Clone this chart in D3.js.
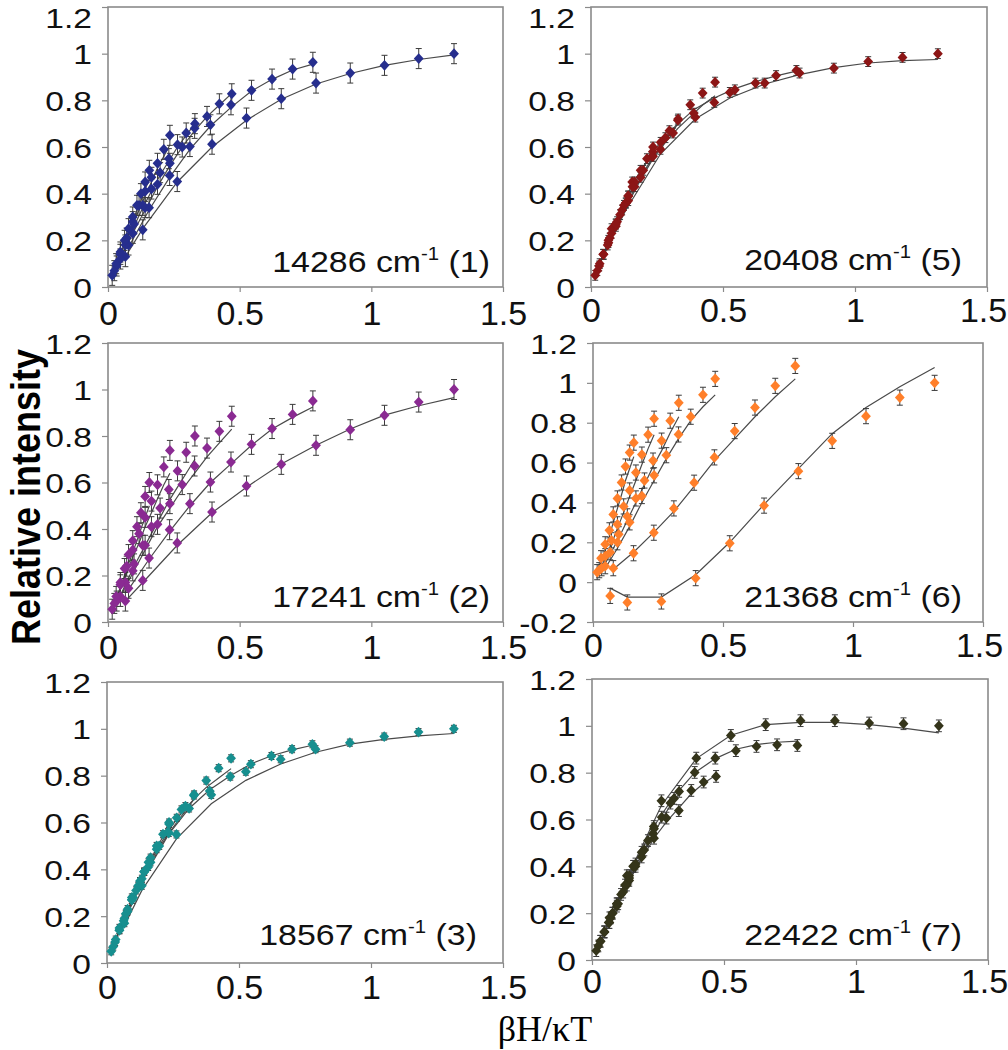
<!DOCTYPE html>
<html><head><meta charset="utf-8">
<script src="https://cdn.jsdelivr.net/npm/d3@7/dist/d3.min.js"></script>
<style>body{margin:0;background:#fff}svg{display:block}</style>
</head><body><svg id="c" width="1008" height="1050"></svg>
<script>
// ---------- DATA ----------
const xTickVals = [0, 0.5, 1, 1.5];
const xTickLabels = ["0", "0.5", "1", "1.5"];
const yTickVals = [0, 0.2, 0.4, 0.6, 0.8, 1, 1.2];
const yTickLabels = ["0", "0.2", "0.4", "0.6", "0.8", "1", "1.2"];
const yTickValsNeg = [-0.2, 0, 0.2, 0.4, 0.6, 0.8, 1, 1.2];
const yTickLabelsNeg = ["-0.2", "0", "0.2", "0.4", "0.6", "0.8", "1", "1.2"];

const wavenumbers = ["14286", "20408", "17241", "21368", "18567", "22422"];
const bandIndex = ["1", "5", "2", "6", "3", "7"];
const errHalf = [0.043, 0.021, 0.043, 0.038, 0.015, 0.025];

// βH/κT values of the six temperature series
const xS1 = [0.066,0.132,0.263,0.395,0.526,0.658,0.79,0.92,1.05,1.18,1.314];
const xS2 = [0.078,0.156,0.234,0.311,0.389,0.467,0.545,0.623,0.701,0.778];
const xS3 = [0.047,0.094,0.141,0.188,0.235,0.282,0.329,0.376,0.423,0.47];
const xS4 = [0.033,0.066,0.099,0.132,0.165,0.198,0.231,0.264,0.297,0.33];
const xS5 = [0.024,0.047,0.071,0.094,0.118,0.141,0.165,0.188,0.212,0.235];
const xS6 = [0.016,0.031,0.047,0.063,0.078,0.094,0.11,0.125,0.141,0.157];

// Panel 1: 14286 cm-1
const p1Y = [
 [0.13,0.245,0.452,0.612,0.724,0.807,0.874,0.917,0.95,0.979,1.0],
 [0.18,0.34,0.478,0.602,0.695,0.781,0.843,0.891,0.934,0.963],
 [0.12,0.23,0.34,0.44,0.53,0.60,0.68,0.731,0.785,0.828],
 [0.09,0.18,0.27,0.35,0.42,0.49,0.55,0.61,0.66,0.70],
 [0.07,0.14,0.21,0.28,0.35,0.41,0.47,0.53,0.59,0.65],
 [0.05,0.10,0.15,0.20,0.25,0.30,0.35,0.40,0.45,0.50]];
const p1Fit = [
 [0.13,0.25,0.45,0.60,0.715,0.805,0.87,0.915,0.95,0.975,0.995],
 [0.17,0.33,0.47,0.59,0.69,0.77,0.84,0.89,0.93,0.955],
 [0.12,0.23,0.33,0.43,0.52,0.60,0.67,0.73,0.78,0.83],
 [0.09,0.17,0.26,0.34,0.41,0.48,0.54,0.60,0.65,0.70],
 [0.07,0.14,0.20,0.27,0.33,0.39,0.45,0.51,0.56,0.61],
 [0.05,0.10,0.14,0.19,0.24,0.28,0.33,0.37,0.42,0.46]];

// Panel 2: 20408 cm-1
const p2Y = [
 [0.20,0.36,0.59,0.728,0.834,0.874,0.917,0.938,0.966,0.984,1.0],
 [0.25,0.45,0.58,0.66,0.745,0.791,0.845,0.874,0.906,0.928],
 [0.14,0.26,0.37,0.47,0.56,0.64,0.715,0.781,0.831,0.878],
 [0.10,0.19,0.28,0.36,0.43,0.50,0.56,0.62,0.67,0.72],
 [0.07,0.14,0.21,0.27,0.33,0.39,0.45,0.50,0.55,0.60],
 [0.05,0.09,0.14,0.18,0.23,0.27,0.31,0.35,0.39,0.43]];
const p2Fit = [
 [0.18,0.33,0.57,0.72,0.81,0.87,0.91,0.94,0.96,0.97,0.975],
 [0.24,0.44,0.58,0.68,0.76,0.81,0.85,0.88,0.905,0.925],
 [0.13,0.25,0.36,0.46,0.55,0.62,0.68,0.73,0.78,0.82],
 [0.10,0.19,0.27,0.35,0.42,0.49,0.55,0.60,0.65,0.70],
 [0.07,0.14,0.20,0.26,0.32,0.38,0.44,0.49,0.54,0.58],
 [0.05,0.09,0.14,0.18,0.22,0.26,0.30,0.34,0.38,0.42]];

// Panel 3: 17241 cm-1
const p3Y = [
 [0.09,0.179,0.34,0.473,0.585,0.678,0.76,0.827,0.889,0.946,1.0],
 [0.145,0.275,0.397,0.509,0.602,0.688,0.764,0.832,0.893,0.951],
 [0.11,0.22,0.33,0.42,0.509,0.591,0.671,0.748,0.82,0.885],
 [0.09,0.17,0.25,0.33,0.41,0.49,0.57,0.65,0.73,0.80],
 [0.08,0.16,0.24,0.31,0.38,0.45,0.52,0.59,0.667,0.738],
 [0.055,0.11,0.17,0.23,0.29,0.35,0.41,0.47,0.54,0.60]];
const p3Fit = [
 [0.09,0.17,0.33,0.47,0.58,0.68,0.76,0.83,0.89,0.93,0.965],
 [0.14,0.27,0.39,0.50,0.60,0.68,0.76,0.83,0.88,0.925],
 [0.11,0.21,0.31,0.41,0.49,0.57,0.64,0.71,0.77,0.83],
 [0.08,0.16,0.24,0.31,0.38,0.45,0.52,0.58,0.64,0.70],
 [0.07,0.14,0.21,0.28,0.34,0.41,0.47,0.53,0.59,0.64],
 [0.05,0.10,0.15,0.20,0.25,0.30,0.35,0.40,0.45,0.50]];

// Panel 4: 21368 cm-1
const p4Y = [
 [-0.069,-0.102,-0.097,0.02,0.195,0.384,0.557,0.709,0.833,0.926,1.0],
 [0.07,0.145,0.248,0.37,0.499,0.626,0.758,0.876,0.985,1.085],
 [0.08,0.20,0.30,0.432,0.536,0.637,0.741,0.83,0.94,1.02],
 [0.07,0.15,0.24,0.33,0.42,0.51,0.61,0.71,0.81,0.90],
 [0.06,0.13,0.21,0.29,0.38,0.46,0.55,0.64,0.74,0.82],
 [0.05,0.12,0.19,0.26,0.34,0.42,0.50,0.58,0.65,0.70]];
const p4Fit = [
 [-0.03,-0.075,-0.075,0.037,0.20,0.39,0.57,0.745,0.876,0.98,1.077],
 [0.065,0.15,0.25,0.355,0.48,0.61,0.72,0.83,0.93,1.02],
 [0.07,0.17,0.28,0.40,0.51,0.62,0.72,0.81,0.88,0.94],
 [0.06,0.14,0.22,0.31,0.40,0.49,0.58,0.66,0.75,0.83],
 [0.05,0.12,0.19,0.27,0.35,0.43,0.51,0.59,0.67,0.74],
 [0.04,0.10,0.16,0.23,0.30,0.37,0.44,0.51,0.57,0.63]];

// Panel 5: 18567 cm-1
const p5Y = [
 [0.17,0.33,0.549,0.718,0.817,0.87,0.913,0.941,0.967,0.986,1.0],
 [0.22,0.41,0.555,0.66,0.735,0.796,0.849,0.884,0.913,0.934],
 [0.15,0.28,0.39,0.486,0.594,0.656,0.715,0.779,0.832,0.874],
 [0.10,0.19,0.28,0.36,0.43,0.50,0.56,0.62,0.67,0.72],
 [0.07,0.14,0.21,0.27,0.33,0.39,0.45,0.50,0.55,0.60],
 [0.05,0.09,0.14,0.18,0.23,0.27,0.31,0.35,0.39,0.43]];
const p5Fit = [
 [0.16,0.31,0.53,0.68,0.78,0.85,0.90,0.935,0.955,0.97,0.98],
 [0.21,0.40,0.55,0.66,0.74,0.80,0.85,0.885,0.91,0.93],
 [0.14,0.27,0.38,0.48,0.57,0.64,0.70,0.75,0.79,0.83],
 [0.10,0.19,0.27,0.35,0.42,0.49,0.55,0.60,0.65,0.70],
 [0.07,0.14,0.20,0.26,0.32,0.38,0.44,0.49,0.54,0.58],
 [0.05,0.09,0.14,0.18,0.22,0.26,0.30,0.34,0.38,0.42]];

// Panel 6: 22422 cm-1
const p6Y = [
 [0.18,0.36,0.68,0.862,0.959,1.005,1.022,1.022,1.012,1.009,1.0],
 [0.20,0.40,0.57,0.69,0.801,0.862,0.894,0.912,0.919,0.916],
 [0.12,0.23,0.34,0.44,0.52,0.606,0.638,0.724,0.76,0.784],
 [0.08,0.16,0.24,0.32,0.40,0.47,0.54,0.61,0.67,0.72],
 [0.06,0.12,0.18,0.24,0.29,0.35,0.41,0.46,0.51,0.56],
 [0.04,0.08,0.12,0.16,0.20,0.24,0.28,0.32,0.36,0.40]];
const p6Fit = [
 [0.17,0.35,0.66,0.86,0.96,1.005,1.015,1.015,1.005,0.99,0.97],
 [0.20,0.40,0.57,0.70,0.80,0.86,0.90,0.92,0.93,0.935],
 [0.12,0.23,0.34,0.43,0.52,0.59,0.65,0.71,0.755,0.79],
 [0.08,0.16,0.24,0.32,0.39,0.46,0.53,0.60,0.66,0.71],
 [0.06,0.12,0.18,0.24,0.29,0.34,0.40,0.45,0.50,0.55],
 [0.04,0.08,0.12,0.16,0.20,0.24,0.28,0.32,0.36,0.40]];

// ---------- LAYOUT / STYLE ----------
const xSeries = [xS1, xS2, xS3, xS4, xS5, xS6];
const panelY = [p1Y, p2Y, p3Y, p4Y, p5Y, p6Y];
const panelFit = [p1Fit, p2Fit, p3Fit, p4Fit, p5Fit, p6Fit];
const colors = ["#262e8e", "#8c1616", "#8a2a92", "#ff7f2a", "#178f8f", "#34341a"];
const layout = [
  {l:108, r:503, t:7,   b:287, neg:false, annX:490, annY:272, xlDy:38, right:false},
  {l:591, r:987, t:7,   b:287, neg:false, annX:962, annY:270, xlDy:35, right:true},
  {l:108, r:503, t:343, b:622, neg:false, annX:490, annY:607, xlDy:37, right:false},
  {l:593, r:983, t:343, b:622, neg:true,  annX:962, annY:607, xlDy:35, right:true},
  {l:107, r:503, t:682, b:963, neg:false, annX:477, annY:945, xlDy:36, right:false},
  {l:592, r:988, t:679, b:960, neg:false, annX:962, annY:945, xlDy:33, right:true}
];

const svg = d3.select("#c");
const FONT = "Liberation Sans, Arial, sans-serif";
const frameCol = "#8a8a8a";

layout.forEach((L, i) => {
  const x = d3.scaleLinear().domain([0, 1.5]).range([L.l, L.r]);
  const y = d3.scaleLinear().domain(L.neg ? [-0.2, 1.2] : [0, 1.2]).range([L.b, L.t]);
  const g = svg.append("g");

  // y axis
  const yv = L.neg ? yTickValsNeg : yTickVals;
  const yl = L.neg ? yTickLabelsNeg : yTickLabels;
  const ya = g.append("g").attr("transform", `translate(${L.l},0)`)
    .call(d3.axisLeft(y).tickValues(yv).tickSize(6).tickFormat((d, k) => yl[k]));
  ya.select(".domain").remove();
  ya.selectAll("line").attr("stroke", frameCol).attr("stroke-width", 1.2);
  ya.selectAll("text").attr("x", null).attr("dy", null)
    .attr("transform", d => `translate(-16,${Math.max(10, 27 - y(d))}) scale(1.2,1)`)
    .attr("font-family", FONT).attr("font-size", 28).attr("fill", "#111");

  // x axis
  const xa = g.append("g").attr("transform", `translate(0,${L.b})`)
    .call(d3.axisBottom(x).tickValues(xTickVals).tickSize(5).tickFormat((d, k) => xTickLabels[k]));
  xa.select(".domain").remove();
  xa.selectAll("line").attr("stroke", frameCol).attr("stroke-width", 1.2);
  xa.selectAll("text").attr("y", L.xlDy).attr("dy", null)
    .attr("dx", d => (L.right && d === 1.5) ? -4 : 0)
    .attr("font-family", FONT).attr("font-size", 34).attr("fill", "#111");

  // frame
  g.append("rect").attr("x", L.l).attr("y", L.t).attr("width", L.r - L.l).attr("height", L.b - L.t)
    .attr("fill", "none").attr("stroke", frameCol).attr("stroke-width", 1.6);

  const line = d3.line().x(d => x(d[0])).y(d => y(d[1]));
  const ys = panelY[i], fs = panelFit[i];
  const e = errHalf[i];

  // fit lines
  fs.forEach((f, s) => {
    g.append("path").datum(f.map((v, k) => [xSeries[s][k], v]))
      .attr("d", line).attr("fill", "none").attr("stroke", "#4a4a4a").attr("stroke-width", 1.2);
  });
  // error bars
  ys.forEach((arr, s) => {
    const pts = arr.map((v, k) => [xSeries[s][k], v]);
    const eb = g.append("g").attr("stroke", "#3a3a3a").attr("stroke-width", 1);
    pts.forEach(p => {
      const cx = x(p[0]), y1 = y(p[1] - e), y2 = y(p[1] + e);
      eb.append("line").attr("x1", cx).attr("x2", cx).attr("y1", y1).attr("y2", y2);
      eb.append("line").attr("x1", cx - 3).attr("x2", cx + 3).attr("y1", y1).attr("y2", y1);
      eb.append("line").attr("x1", cx - 3).attr("x2", cx + 3).attr("y1", y2).attr("y2", y2);
    });
  });
  // markers
  const sym = d3.symbol().type(d3.symbolSquare).size(48);
  ys.forEach((arr, s) => {
    g.append("g").selectAll("path").data(arr.map((v, k) => [xSeries[s][k], v])).join("path")
      .attr("d", sym)
      .attr("transform", d => `translate(${x(d[0])},${y(d[1])}) scale(1,1.1) rotate(45)`)
      .attr("fill", colors[i]);
  });

  // annotation
  const t = g.append("text").attr("text-anchor", "end")
    .attr("transform", `translate(${L.annX},${L.annY}) scale(1.13,1)`)
    .attr("font-family", FONT).attr("font-size", 30).attr("fill", "#111");
  t.append("tspan").text(wavenumbers[i] + " cm");
  t.append("tspan").attr("font-size", 18).attr("dy", -12).text("-1");
  t.append("tspan").attr("dy", 12).text(" (" + bandIndex[i] + ")");
});

// axis titles
svg.append("text").attr("text-anchor", "middle")
  .attr("transform", "translate(40,497) scale(1.15,1) rotate(-90)")
  .attr("font-family", FONT).attr("font-weight", "bold").attr("font-size", 36).attr("fill", "#000")
  .text("Relative intensity");
svg.append("text").attr("text-anchor", "middle")
  .attr("transform", "translate(545,1041)")
  .attr("font-family", "Liberation Serif, Times New Roman, serif").attr("font-size", 36).attr("fill", "#000")
  .text("βH/κT");
</script></body></html>
